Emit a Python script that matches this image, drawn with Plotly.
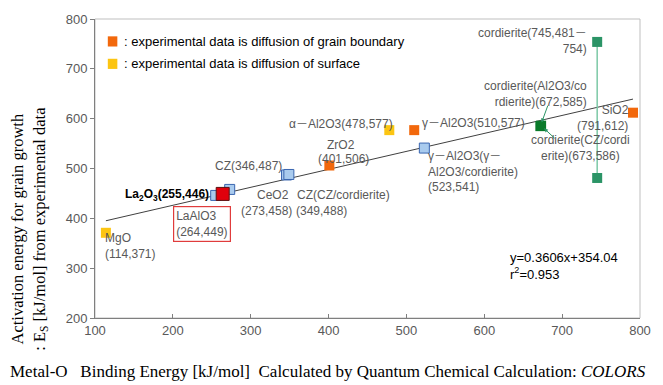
import plotly.graph_objects as go

# --- data -------------------------------------------------------------
grain_x = [401, 510, 791]          # ZrO2, γ-Al2O3, SiO2
grain_y = [506, 577, 612]
surface_x = [114, 478]             # MgO, α-Al2O3
surface_y = [371, 577]
cz_x = [255, 273, 346, 349, 523]   # La2O3, CeO2, CZ, CZ(CZ/cordierite), γ-Al2O3(γ-Al2O3/cordierite)
cz_y = [446, 458, 487, 488, 541]
laalo3_x = [264]
laalo3_y = [449]
cord_x = [672, 673]
cord_y = [585, 586]
cord_range_x = [745, 745]
cord_range_y = [481, 754]
slope, intercept = 0.3606, 354.04
fit_x = [114, 791]

GRAY = "#595959"
LABEL_FONT = "Liberation Sans, Noto Sans CJK JP, sans-serif"
SERIF = "Liberation Serif, DejaVu Serif, serif"

fig = go.Figure()

# regression line
fig.add_trace(go.Scatter(x=fit_x, y=[slope * v + intercept for v in fit_x],
                         mode="lines", line=dict(color="#404040", width=1),
                         hoverinfo="skip"))
# cordierite range
fig.add_trace(go.Scatter(x=cord_range_x, y=cord_range_y, mode="lines+markers",
                         line=dict(color="#7cc9a6", width=1.5),
                         marker=dict(symbol="square", size=10, color="#2b9466")))
# CZ-type / support samples
fig.add_trace(go.Scatter(x=cz_x, y=cz_y, mode="markers",
                         marker=dict(symbol="square", size=10, color="#a9cbee",
                                     line=dict(color="#3a66b0", width=1))))
fig.add_trace(go.Scatter(x=laalo3_x, y=laalo3_y, mode="markers",
                         marker=dict(symbol="square", size=13, color="#e0000c",
                                     line=dict(color="#5a1010", width=1))))
fig.add_trace(go.Scatter(x=cord_x, y=cord_y, mode="markers",
                         marker=dict(symbol="square", size=10, color="#0a7a2a")))
fig.add_trace(go.Scatter(x=grain_x, y=grain_y, mode="markers",
                         marker=dict(symbol="square", size=10, color="#f2680c")))
fig.add_trace(go.Scatter(x=surface_x, y=surface_y, mode="markers",
                         marker=dict(symbol="square", size=10, color="#fcc512")))


def label(text, x, y, xanchor="left", align="left", color=GRAY, size=12, **kw):
    fig.add_annotation(text=text, x=x, y=y, xref="x", yref="y", showarrow=False,
                       xanchor=xanchor, yanchor="middle", align=align,
                       font=dict(family=LABEL_FONT, size=size, color=color), **kw)


label("cordierite(745,481－<br>754)", 734, 756, xanchor="right", align="right")
label("cordierite(Al2O3/co<br>rdierite)(672,585)", 734, 650, xanchor="right", align="right")
label("SiO2<br>(791,612)", 788, 602, xanchor="right", align="right")
label("cordierite(CZ/cordi<br>erite)(673,586)", 723, 541, xanchor="center", align="center")
label("γ－Al2O3(510,577)", 518, 591)
label("α－Al2O3(478,577)", 346, 590)
label("ZrO2", 396, 548)
label("(401,506)", 384, 519)
label("γ－Al2O3(γ－<br>Al2O3/cordierite)<br>(523,541)", 525, 493)
label("CZ(346,487)", 251, 505)
label("CeO2", 352, 447, xanchor="right")
label("(273,458)", 285, 414)
label("CZ(CZ/cordierite)", 357, 447)
label("(349,488)", 356, 414)
label("<b>La<sub>2</sub>O<sub>3</sub>(255,446)</b>", 249, 447, xanchor="right",
      color="#000000", size=12)
label("LaAlO3<br>(264,449)", 237, 389, xanchor="center",
      bordercolor="#e03c3c", borderwidth=1.2, borderpad=2)
label("MgO<br>(114,371)", 110, 345)
label("y=0.3606x+354.04<br>r<sup>2</sup>=0.953", 630, 305, color="#000000", size=13)

# small pointers from the cordierite labels to their markers
fig.add_annotation(x=cord_x[0], y=cord_y[0], ax=8, ay=-22, xref="x", yref="y",
                   text="", showarrow=True, arrowhead=2, arrowsize=0.8,
                   arrowwidth=1, arrowcolor="#2b9466", standoff=4)
fig.add_annotation(x=cord_x[1], y=cord_y[1], ax=15, ay=14, xref="x", yref="y",
                   text="", showarrow=True, arrowhead=2, arrowsize=0.8,
                   arrowwidth=1, arrowcolor="#2b9466", standoff=4)

# legend
for yy, col, txt in [(0.925, "#f2680c", ": experimental data is diffusion of grain boundary"),
                     (0.85, "#fcc512", ": experimental data is diffusion of surface")]:
    fig.add_shape(type="rect", xref="paper", yref="paper",
                  x0=0.0235, x1=0.041, y0=yy - 0.017, y1=yy + 0.017,
                  fillcolor=col, line=dict(width=0))
    fig.add_annotation(text=txt, xref="paper", yref="paper", x=0.05, y=yy,
                       xanchor="left", yanchor="middle", showarrow=False,
                       font=dict(family="Liberation Sans, Arial, sans-serif",
                                 size=13, color="#000000"))

# plot frame
fig.add_shape(type="rect", xref="paper", yref="paper", x0=0, x1=1, y0=0, y1=1,
              line=dict(color="#bfbfbf", width=1), layer="below")

# axis titles
fig.add_annotation(text="Activation energy for grain growth<br>: E<sub>S</sub> [kJ/mol] from experimental data",
                   xref="paper", yref="paper", x=-0.12, y=0.297, textangle=-90,
                   xanchor="center", yanchor="middle", showarrow=False,
                   font=dict(family=SERIF, size=16.5, color="#000000"))
fig.add_annotation(text="Metal-O   Binding Energy [kJ/mol]  Calculated by Quantum Chemical Calculation: <i>COLORS</i>",
                   xref="paper", yref="paper", x=0.427, y=-0.18,
                   xanchor="center", yanchor="middle", showarrow=False,
                   font=dict(family=SERIF, size=17, color="#000000"))

fig.update_layout(
    width=663, height=385, showlegend=False,
    margin=dict(l=95, r=13, t=15, b=67),
    paper_bgcolor="white", plot_bgcolor="white",
    xaxis=dict(range=[100, 800], tickvals=[100, 200, 300, 400, 500, 600, 700, 800],
               showgrid=False, zeroline=False, showline=True, linecolor="#7f7f7f",
               ticks="inside", ticklen=4, tickcolor="#7f7f7f",
               tickfont=dict(family="Liberation Sans, Arial", size=13, color=GRAY)),
    yaxis=dict(range=[200, 800], tickvals=[200, 300, 400, 500, 600, 700, 800],
               showgrid=False, zeroline=False, showline=True, linecolor="#7f7f7f",
               ticks="outside", ticklen=4, tickcolor="#7f7f7f",
               tickfont=dict(family="Liberation Sans, Arial", size=13, color=GRAY)),
)

fig.write_html("out.html")
